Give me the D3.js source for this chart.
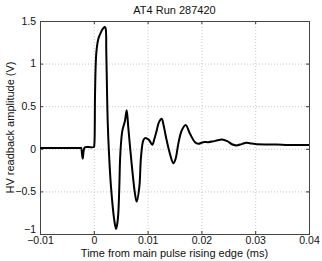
<!DOCTYPE html>
<html>
<head>
<meta charset="utf-8">
<script src="https://cdn.jsdelivr.net/npm/d3@7"></script>
<style>
  body { margin: 0; background: #fff; }
  text { font-family: "Liberation Sans", Arial, sans-serif; }
</style>
</head>
<body>
<div id="chart"></div>
<script>
// time (ms) and readback (V)
var times = [-0.01, -0.005, -0.0025, -0.00235, -0.0022, -0.00205, -0.0019, -0.0017, -0.001, 0.0,
  0.0001, 0.00022, 0.00035, 0.0005, 0.00084, 0.00134, 0.0017, 0.002, 0.00217, 0.00232,
  0.00245, 0.00258, 0.00283, 0.0032, 0.00381, 0.00413, 0.00431, 0.00455, 0.00474, 0.00493,
  0.0053, 0.0058, 0.00611, 0.00641, 0.00704, 0.00766, 0.00797, 0.00846, 0.00877, 0.0092,
  0.00952, 0.0099, 0.01032, 0.01087, 0.01128, 0.01169, 0.0121, 0.01262, 0.01296, 0.01342,
  0.01416, 0.01478, 0.01519, 0.01571, 0.01634, 0.01708, 0.01788, 0.01881, 0.01942, 0.02035,
  0.02128, 0.022, 0.023, 0.0238, 0.0248, 0.0258, 0.0265, 0.0275, 0.0283, 0.029,
  0.03, 0.032, 0.034, 0.036, 0.038, 0.04];
var volts = [0.01, 0.01, 0.01, 0.01, -0.06, -0.115, -0.03, 0.015, 0.02, 0.02,
  0.05, 0.6, 0.98, 1.15, 1.29, 1.37, 1.41, 1.43, 1.42, 1.14,
  0.7, 0.33, -0.06, -0.45, -0.84, -0.94, -0.9, -0.76, -0.45, -0.06,
  0.21, 0.33, 0.453, 0.25, -0.18, -0.53, -0.62, -0.45, -0.1, 0.1,
  0.125, 0.12, 0.1, 0.047, 0.12, 0.215, 0.31, 0.352, 0.28, 0.136,
  -0.06, -0.17, -0.12, 0.06, 0.215, 0.28, 0.176, 0.078, 0.059, 0.078,
  0.078, 0.085, 0.1, 0.11, 0.09, 0.05, 0.04, 0.055, 0.07, 0.065,
  0.055, 0.05, 0.05, 0.045, 0.045, 0.045];
var xTicks = [-0.01, 0, 0.01, 0.02, 0.03, 0.04];
var yTicks = [-1, -0.5, 0, 0.5, 1, 1.5];

var W = 322, H = 261;
var margin = { top: 21, right: 13, bottom: 27, left: 40 };
var w = W - margin.left - margin.right;
var h = H - margin.top - margin.bottom;

var svg = d3.select("#chart").append("svg")
  .attr("width", W).attr("height", H);
var g = svg.append("g")
  .attr("transform", "translate(" + margin.left + "," + margin.top + ")");

var x = d3.scaleLinear().domain([-0.01, 0.04]).range([0, w]);
var y = d3.scaleLinear().domain([-1, 1.5]).range([h, 0]);

function fmt(d) {
  return d3.format("")(d).replace("-", "\u2212");
}

// grid
g.selectAll(".gx").data(xTicks.slice(1, -1)).enter().append("line")
  .attr("x1", function(d) { return x(d) + 0.5; })
  .attr("x2", function(d) { return x(d) + 0.5; })
  .attr("y1", 0).attr("y2", h)
  .attr("stroke", "#c8c8c8").attr("stroke-dasharray", "1,2");
g.selectAll(".gy").data(yTicks.slice(1, -1)).enter().append("line")
  .attr("y1", function(d) { return y(d) + 0.5; })
  .attr("y2", function(d) { return y(d) + 0.5; })
  .attr("x1", 0).attr("x2", w)
  .attr("stroke", "#c8c8c8").attr("stroke-dasharray", "1,2");

// axes (ticks inside, box on)
var axisStyle = function(sel) {
  sel.select(".domain").remove();
  sel.selectAll("line").attr("stroke", "#333");
  sel.selectAll("text").attr("font-size", 10.5).attr("fill", "#111");
};
g.append("g").attr("transform", "translate(0," + h + ")")
  .call(d3.axisBottom(x).tickValues(xTicks).tickSize(-3).tickPadding(3).tickFormat(fmt))
  .call(axisStyle);
g.append("g")
  .call(d3.axisTop(x).tickValues(xTicks).tickSize(-3).tickFormat(""))
  .call(axisStyle);
var yAx = g.append("g")
  .call(d3.axisLeft(y).tickValues(yTicks).tickSize(-3).tickPadding(4).tickFormat(fmt))
  .call(axisStyle);
// lift the bottom label a little so it clears the x tick label
yAx.selectAll("text").filter(function(d) { return d === -1; }).attr("dy", "-0.12em");
g.append("g").attr("transform", "translate(" + w + ",0)")
  .call(d3.axisRight(y).tickValues(yTicks).tickSize(-3).tickFormat(""))
  .call(axisStyle);

g.append("rect")
  .attr("x", 0.5).attr("y", 0.5).attr("width", w).attr("height", h)
  .attr("fill", "none").attr("stroke", "#444");

// trace
var pts = times.map(function(t, i) { return [t, volts[i]]; });
var line = d3.line()
  .x(function(d) { return x(d[0]); })
  .y(function(d) { return y(d[1]); })
  .curve(d3.curveCatmullRom.alpha(0.5));
g.append("path")
  .datum(pts)
  .attr("d", line)
  .attr("fill", "none")
  .attr("stroke", "#000")
  .attr("stroke-width", 2)
  .attr("stroke-linejoin", "round");

// labels
svg.append("text")
  .attr("x", margin.left + w / 2).attr("y", 14)
  .attr("text-anchor", "middle").attr("font-size", 11).attr("fill", "#111")
  .text("AT4 Run 287420");
svg.append("text")
  .attr("x", margin.left + w / 2).attr("y", 257)
  .attr("text-anchor", "middle").attr("font-size", 11).attr("fill", "#111")
  .text("Time from main pulse rising edge (ms)");
svg.append("text")
  .attr("transform", "translate(14," + (margin.top + h / 2) + ")rotate(-90)")
  .attr("text-anchor", "middle").attr("font-size", 11).attr("fill", "#111")
  .text("HV readback amplitude (V)");
</script>
</body>
</html>
